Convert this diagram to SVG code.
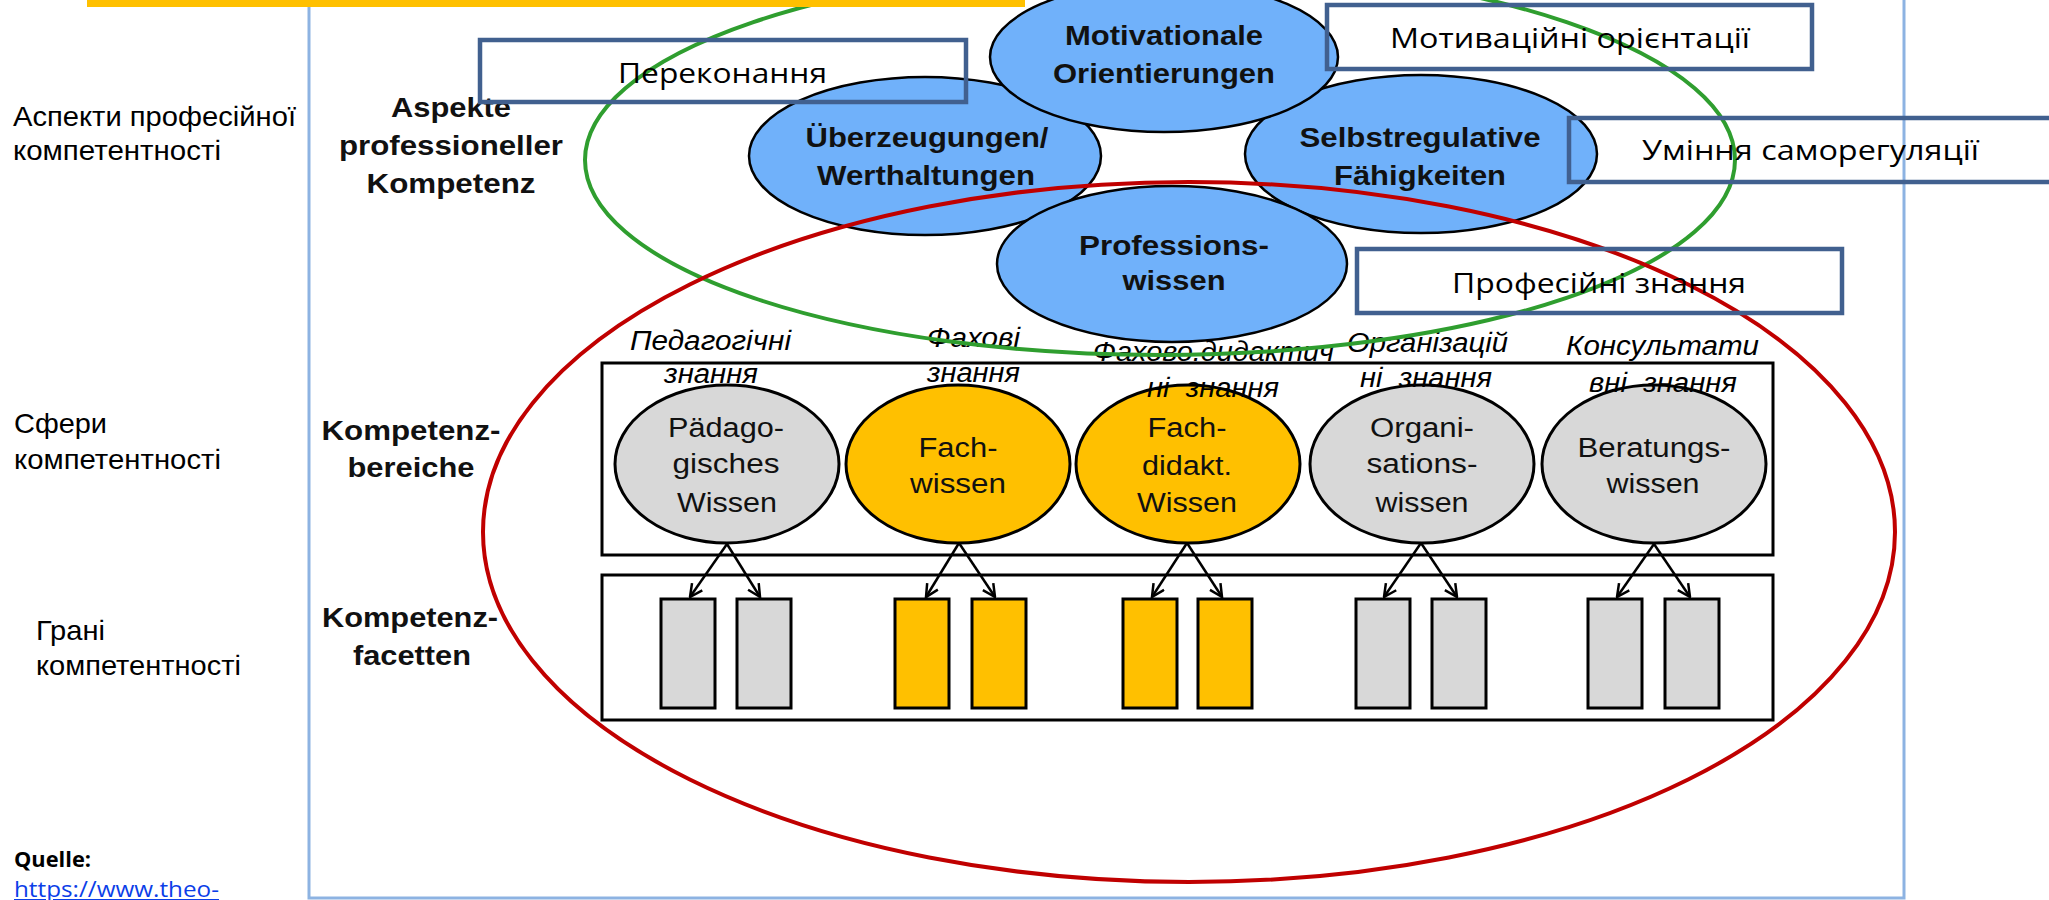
<svg xmlns="http://www.w3.org/2000/svg" width="2049" height="900" viewBox="0 0 2049 900">
  <defs>
    <style>
      .lbl { font-family: "Liberation Sans", Arial, sans-serif; font-size: 28px; fill: #000; }
      .de { font-family: "Liberation Sans", Arial, sans-serif; fill: #111; text-anchor: middle; }
      .deb { font-size: 27px; font-weight: bold; }
      .der { font-size: 27px; }
      .it { font-family: "Liberation Sans", Arial, sans-serif; font-size: 27px; font-style: italic; fill: #000; white-space: pre; }
      .box { fill: none; stroke: #41608f; stroke-width: 4.5; }
      .boxt { font-family: "Open Sans", "Noto Sans", sans-serif; font-size: 28px; fill: #000; }
      .asp { fill: #70b1fa; stroke: #000; stroke-width: 2.5; }
      .grey { fill: #d8d8d8; stroke: #000; stroke-width: 3; }
      .gold { fill: #ffc000; stroke: #000; stroke-width: 3; }
      .frame { fill: #fff; stroke: #000; stroke-width: 3; }
      .arrow { stroke: #000; stroke-width: 2.5; fill: none; marker-end: url(#vhead); }
    </style>
    <marker id="vhead" viewBox="0 0 12 12" refX="11" refY="6" markerWidth="15" markerHeight="15" markerUnits="userSpaceOnUse" orient="auto">
      <path d="M1,1 L11,6 L1,11" fill="none" stroke="#000" stroke-width="2"/>
    </marker>
  </defs>

  <rect width="2049" height="900" fill="#fff"/>

  <!-- outer slide frame -->
  <rect x="309" y="-10" width="1595" height="908" fill="none" stroke="#8db3e2" stroke-width="3"/>

  <!-- left-hand row captions -->
  <g id="row-aspects">
    <text class="lbl" x="13" y="126" textLength="283" lengthAdjust="spacingAndGlyphs">Аспекти професійної</text>
    <text class="lbl" x="13" y="160" textLength="208" lengthAdjust="spacingAndGlyphs">компетентності</text>
  </g>
  <g id="row-areas">
    <text class="lbl" x="14" y="433" textLength="93" lengthAdjust="spacingAndGlyphs">Сфери</text>
    <text class="lbl" x="14" y="469" textLength="207" lengthAdjust="spacingAndGlyphs">компетентності</text>
  </g>
  <g id="row-facets">
    <text class="lbl" x="36" y="640" textLength="69" lengthAdjust="spacingAndGlyphs">Грані</text>
    <text class="lbl" x="36" y="675" textLength="205" lengthAdjust="spacingAndGlyphs">компетентності</text>
  </g>
  <g id="source">
    <text x="14" y="867" font-family="'Open Sans', 'Noto Sans', sans-serif" font-size="22" font-weight="bold" fill="#000" textLength="77" lengthAdjust="spacingAndGlyphs">Quelle:</text>
    <text x="14" y="897" font-family="'Open Sans', 'Noto Sans', sans-serif" font-size="22" fill="#0b3ee8" text-decoration="underline" textLength="205" lengthAdjust="spacingAndGlyphs">https://www.theo-</text>
  </g>

  <!-- German row headings -->
  <g id="head-aspekte">
    <text class="de deb" x="451" y="117" textLength="120" lengthAdjust="spacingAndGlyphs">Aspekte</text>
    <text class="de deb" x="451" y="155" textLength="224" lengthAdjust="spacingAndGlyphs">professioneller</text>
    <text class="de deb" x="451" y="193" textLength="169" lengthAdjust="spacingAndGlyphs">Kompetenz</text>
  </g>
  <g id="head-bereiche">
    <text class="de deb" x="411" y="440" textLength="179" lengthAdjust="spacingAndGlyphs">Kompetenz-</text>
    <text class="de deb" x="411" y="477" textLength="127" lengthAdjust="spacingAndGlyphs">bereiche</text>
  </g>
  <g id="head-facetten">
    <text class="de deb" x="410" y="627" textLength="176" lengthAdjust="spacingAndGlyphs">Kompetenz-</text>
    <text class="de deb" x="412" y="665" textLength="118" lengthAdjust="spacingAndGlyphs">facetten</text>
  </g>

  <!-- aspects of professional competence -->
  <g id="ueberzeugungen">
    <ellipse class="asp" cx="925" cy="156" rx="176" ry="79"/>
    <text class="de deb" x="927" y="147" textLength="243" lengthAdjust="spacingAndGlyphs">Überzeugungen/</text>
    <text class="de deb" x="926" y="185" textLength="218" lengthAdjust="spacingAndGlyphs">Werthaltungen</text>
  </g>
  <g id="selbstregulation">
    <ellipse class="asp" cx="1421" cy="154" rx="176" ry="79"/>
    <text class="de deb" x="1420" y="147" textLength="241" lengthAdjust="spacingAndGlyphs">Selbstregulative</text>
    <text class="de deb" x="1420" y="185" textLength="172" lengthAdjust="spacingAndGlyphs">Fähigkeiten</text>
  </g>
  <g id="motivation">
    <ellipse class="asp" cx="1164" cy="57" rx="174" ry="75"/>
    <text class="de deb" x="1164" y="45" textLength="198" lengthAdjust="spacingAndGlyphs">Motivationale</text>
    <text class="de deb" x="1164" y="83" textLength="222" lengthAdjust="spacingAndGlyphs">Orientierungen</text>
  </g>
  <g id="professionswissen">
    <ellipse class="asp" cx="1172" cy="264" rx="175" ry="78"/>
    <text class="de deb" x="1174" y="255" textLength="190" lengthAdjust="spacingAndGlyphs">Professions-</text>
    <text class="de deb" x="1174" y="290" textLength="103" lengthAdjust="spacingAndGlyphs">wissen</text>
  </g>

  <!-- competence areas -->
  <rect id="bereiche-frame" class="frame" x="602" y="363" width="1171" height="192"/>
  <g id="paedagogisch">
    <ellipse class="grey" cx="727" cy="464" rx="112" ry="79"/>
    <text class="de der" x="726" y="437" textLength="116" lengthAdjust="spacingAndGlyphs">Pädago-</text>
    <text class="de der" x="726" y="473" textLength="107" lengthAdjust="spacingAndGlyphs">gisches</text>
    <text class="de der" x="727" y="512" textLength="100" lengthAdjust="spacingAndGlyphs">Wissen</text>
    <text class="it" x="630" y="350" textLength="161" lengthAdjust="spacingAndGlyphs">Педагогічні</text>
    <text class="it" x="664" y="383" textLength="94" lengthAdjust="spacingAndGlyphs">знання</text>
  </g>
  <g id="fachwissen">
    <ellipse class="gold" cx="958" cy="464" rx="112" ry="79"/>
    <text class="de der" x="958" y="457" textLength="79" lengthAdjust="spacingAndGlyphs">Fach-</text>
    <text class="de der" x="958" y="493" textLength="96" lengthAdjust="spacingAndGlyphs">wissen</text>
    <text class="it" x="927" y="347" textLength="93" lengthAdjust="spacingAndGlyphs">Фахові</text>
    <text class="it" x="927" y="382" textLength="93" lengthAdjust="spacingAndGlyphs">знання</text>
  </g>
  <g id="fachdidaktik">
    <ellipse class="gold" cx="1188" cy="464" rx="112" ry="79"/>
    <text class="de der" x="1187" y="437" textLength="79" lengthAdjust="spacingAndGlyphs">Fach-</text>
    <text class="de der" x="1187" y="475" textLength="90" lengthAdjust="spacingAndGlyphs">didakt.</text>
    <text class="de der" x="1187" y="512" textLength="100" lengthAdjust="spacingAndGlyphs">Wissen</text>
    <text class="it" x="1093" y="361" textLength="241" lengthAdjust="spacingAndGlyphs">Фахово.дидактич</text>
    <text class="it" x="1147" y="397" textLength="132" lengthAdjust="spacingAndGlyphs">ні  знання</text>
  </g>
  <g id="organisation">
    <ellipse class="grey" cx="1422" cy="464" rx="112" ry="79"/>
    <text class="de der" x="1422" y="437" textLength="104" lengthAdjust="spacingAndGlyphs">Organi-</text>
    <text class="de der" x="1422" y="473" textLength="111" lengthAdjust="spacingAndGlyphs">sations-</text>
    <text class="de der" x="1422" y="512" textLength="93" lengthAdjust="spacingAndGlyphs">wissen</text>
    <text class="it" x="1347" y="352" textLength="161" lengthAdjust="spacingAndGlyphs">Організацій</text>
    <text class="it" x="1360" y="387" textLength="132" lengthAdjust="spacingAndGlyphs">ні  знання</text>
  </g>
  <g id="beratung">
    <ellipse class="grey" cx="1654" cy="464" rx="112" ry="79"/>
    <text class="de der" x="1654" y="457" textLength="153" lengthAdjust="spacingAndGlyphs">Beratungs-</text>
    <text class="de der" x="1653" y="493" textLength="93" lengthAdjust="spacingAndGlyphs">wissen</text>
    <text class="it" x="1566" y="355" textLength="193" lengthAdjust="spacingAndGlyphs">Консультати</text>
    <text class="it" x="1589" y="392" textLength="148" lengthAdjust="spacingAndGlyphs">вні  знання</text>
  </g>

  <!-- competence facets -->
  <rect id="facetten-frame" class="frame" x="602" y="575" width="1171" height="145"/>
  <g id="facets-paed"><rect class="grey" x="661" y="599" width="54" height="109"/><rect class="grey" x="737" y="599" width="54" height="109"/></g>
  <g id="facets-fach"><rect class="gold" x="895" y="599" width="54" height="109"/><rect class="gold" x="972" y="599" width="54" height="109"/></g>
  <g id="facets-didakt"><rect class="gold" x="1123" y="599" width="54" height="109"/><rect class="gold" x="1198" y="599" width="54" height="109"/></g>
  <g id="facets-org"><rect class="grey" x="1356" y="599" width="54" height="109"/><rect class="grey" x="1432" y="599" width="54" height="109"/></g>
  <g id="facets-berat"><rect class="grey" x="1588" y="599" width="54" height="109"/><rect class="grey" x="1665" y="599" width="54" height="109"/></g>

  <g id="connectors">
    <line class="arrow" x1="727" y1="544" x2="690" y2="597"/>
    <line class="arrow" x1="727" y1="544" x2="760" y2="597"/>
    <line class="arrow" x1="959" y1="543" x2="926" y2="597"/>
    <line class="arrow" x1="959" y1="543" x2="995" y2="597"/>
    <line class="arrow" x1="1187" y1="543" x2="1152" y2="597"/>
    <line class="arrow" x1="1187" y1="543" x2="1222" y2="597"/>
    <line class="arrow" x1="1421" y1="543" x2="1384" y2="597"/>
    <line class="arrow" x1="1421" y1="543" x2="1457" y2="597"/>
    <line class="arrow" x1="1654" y1="544" x2="1617" y2="597"/>
    <line class="arrow" x1="1654" y1="544" x2="1690" y2="597"/>
  </g>

  <!-- grouping outlines -->
  <ellipse id="aspekte-outline" cx="1160" cy="160" rx="575" ry="195" fill="none" stroke="#2f9e2f" stroke-width="4"/>
  <ellipse id="wissen-outline" cx="1189" cy="532" rx="706" ry="350" fill="none" stroke="#c00000" stroke-width="4"/>

  <!-- Ukrainian captions -->
  <g id="cap-perekonannia">
    <rect class="box" x="480" y="40" width="486" height="62"/>
    <text class="boxt" x="618" y="83" textLength="209" lengthAdjust="spacingAndGlyphs">Переконання</text>
  </g>
  <g id="cap-motyvatsiia">
    <rect class="box" x="1327" y="5" width="485" height="64"/>
    <text class="boxt" x="1390" y="48" textLength="360" lengthAdjust="spacingAndGlyphs">Мотиваційні орієнтації</text>
  </g>
  <g id="cap-samorehuliatsiia">
    <rect class="box" x="1569" y="118" width="500" height="64"/>
    <text class="boxt" x="1642" y="160" textLength="337" lengthAdjust="spacingAndGlyphs">Уміння саморегуляції</text>
  </g>
  <g id="cap-znannia">
    <rect class="box" x="1357" y="249" width="485" height="64"/>
    <text class="boxt" x="1452" y="293" textLength="294" lengthAdjust="spacingAndGlyphs">Професійні знання</text>
  </g>

  <!-- title accent bar -->
  <rect x="87" y="0" width="938" height="7" fill="#ffc000"/>
</svg>
